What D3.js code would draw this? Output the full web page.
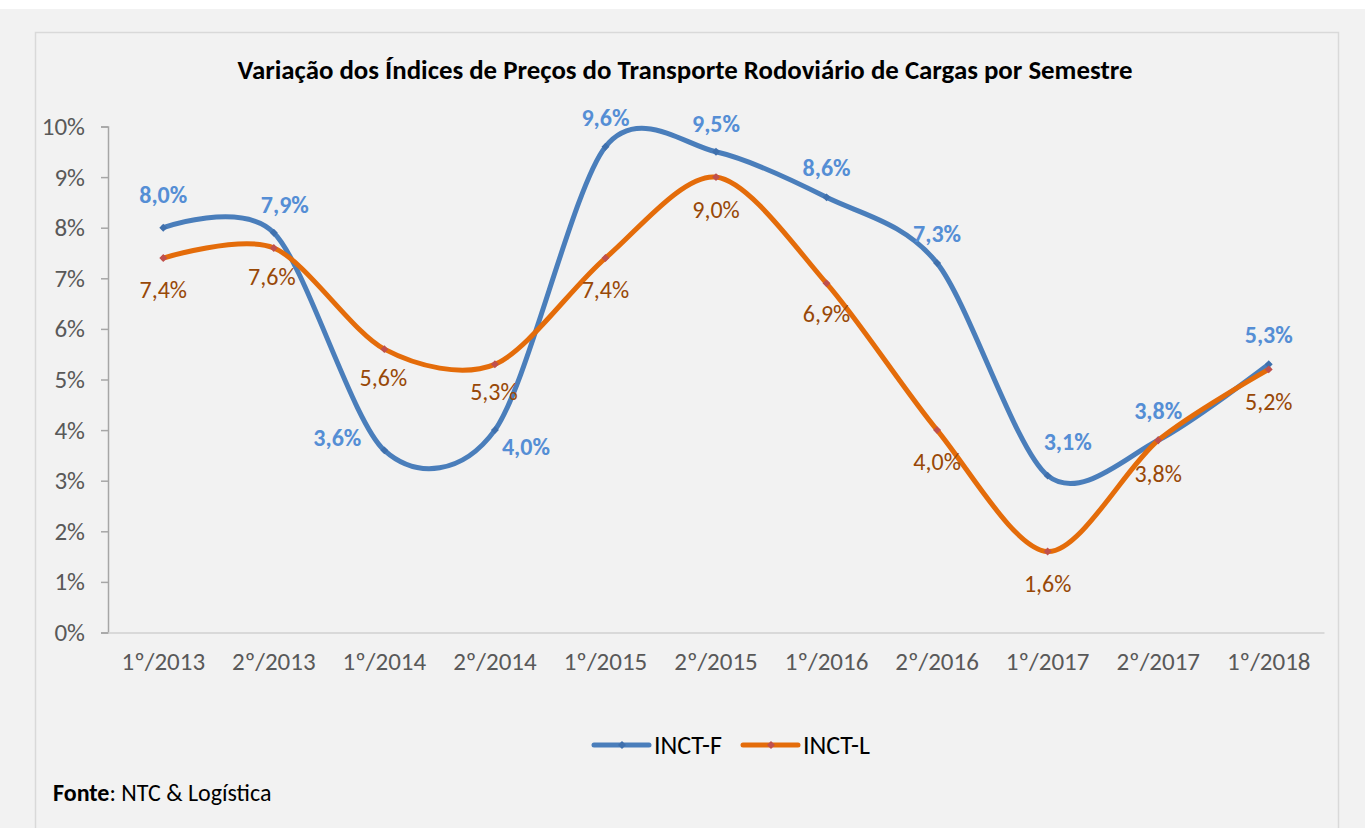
<!DOCTYPE html>
<html>
<head>
<meta charset="utf-8">
<script src="https://cdn.jsdelivr.net/npm/d3@7"></script>
<style>
  body { margin: 0; background: #ffffff; }
  svg { display: block; }
  text { font-family: Calibri, Carlito, Lato, sans-serif; }
</style>
</head>
<body>
<svg id="chart" width="1365" height="828"></svg>
<script>
// data
const categories = ["1º/2013", "2º/2013", "1º/2014", "2º/2014", "1º/2015", "2º/2015",
                    "1º/2016", "2º/2016", "1º/2017", "2º/2017", "1º/2018"];
const inctF = [8.0, 7.9, 3.6, 4.0, 9.6, 9.5, 8.6, 7.3, 3.1, 3.8, 5.3];
const inctL = [7.4, 7.6, 5.6, 5.3, 7.4, 9.0, 6.9, 4.0, 1.6, 3.8, 5.2];
const yTicks = [0, 1, 2, 3, 4, 5, 6, 7, 8, 9, 10];

// label offsets (dx, dy) relative to the point
const offF = [[0,-33],[11,-28],[-47,-13],[31,16],[0,-29],[0,-28],[0,-30],[0,-30],[20,-34],[0,-30],[0,-30]];
const offL = [[0,32],[-2,29],[-1,28],[-1,27],[0,32],[0,32],[0,30],[0,31],[0,32],[0,33],[0,32]];

const colors = {
  F: "#4a7ebb", L: "#e46c0a",
  Fmark: "#3f70ad", Lmark: "#c0504d",
  Flabel: "#558ed5", Llabel: "#984807"
};

const svg = d3.select("#chart");

// backgrounds
svg.append("rect").attr("x", 0).attr("y", 9).attr("width", 1365).attr("height", 819).attr("fill", "#f2f2f2");
svg.append("path")
  .attr("d", "M35.5,828 V32.5 H1338.5 V828")
  .attr("fill", "none").attr("stroke", "#d9d9d9").attr("stroke-width", 1.5);

const x = d3.scaleBand().domain(categories).range([108, 1324]);
const y = d3.scaleLinear().domain([0, 10]).range([632.5, 126.5]);
const cx = i => x(categories[i]) + x.bandwidth() / 2;

// title
svg.append("text")
  .attr("x", 685).attr("y", 79)
  .attr("text-anchor", "middle")
  .attr("font-size", 26).attr("font-weight", "bold").attr("fill", "#000")
  .attr("textLength", 895).attr("lengthAdjust", "spacingAndGlyphs")
  .text("Variação dos Índices de Preços do Transporte Rodoviário de Cargas por Semestre");

// y axis
const yAxis = svg.append("g")
  .attr("transform", "translate(108,0)")
  .call(d3.axisLeft(y).tickValues(yTicks).tickSize(7).tickPadding(16).tickFormat(d => d + "%"));
yAxis.select(".domain").attr("stroke", "#a6a6a6").attr("stroke-width", 1.5);
yAxis.selectAll(".tick line").attr("stroke", "#a6a6a6").attr("stroke-width", 1.5);
yAxis.selectAll("text").attr("font-size", 25).attr("fill", "#595959")
  .style("font-family", "Calibri, Carlito, Lato, sans-serif");

// x axis
const xAxis = svg.append("g")
  .attr("transform", "translate(0,632.5)")
  .call(d3.axisBottom(x).tickSize(0).tickPadding(20));
xAxis.select(".domain").attr("stroke", "#d9d9d9").attr("stroke-width", 2);
xAxis.selectAll("text").attr("font-size", 25).attr("fill", "#595959")
  .style("font-family", "Calibri, Carlito, Lato, sans-serif");

// lines (smoothed like Excel)
const line = d3.line()
  .x((d, i) => cx(i))
  .y(d => y(d))
  .curve(d3.curveCardinal.tension(0.12));

const series = [
  { key: "F", values: inctF, off: offF, bold: true },
  { key: "L", values: inctL, off: offL, bold: false }
];

series.forEach(s => {
  svg.append("path")
    .attr("d", line(s.values))
    .attr("fill", "none")
    .attr("stroke", colors[s.key])
    .attr("stroke-width", 5)
    .attr("stroke-linecap", "round");

  svg.append("g").selectAll("path")
    .data(s.values)
    .enter().append("path")
    .attr("d", d3.symbol(d3.symbolDiamond2, 40))
    .attr("transform", (d, i) => `translate(${cx(i)},${y(d)})`)
    .attr("fill", colors[s.key + "mark"]);
});

series.forEach(s => {
  svg.append("g").selectAll("text")
    .data(s.values)
    .enter().append("text")
    .attr("x", (d, i) => cx(i) + s.off[i][0])
    .attr("y", (d, i) => y(d) + s.off[i][1])
    .attr("dy", "0.35em")
    .attr("text-anchor", "middle")
    .attr("font-size", 24)
    .attr("font-weight", s.bold ? "bold" : "normal")
    .attr("fill", colors[s.key + "label"])
    .text(d => d.toFixed(1).replace(".", ",") + "%");
});

// legend
const legendItems = [
  { label: "INCT-F", key: "F", x: 594 },
  { label: "INCT-L", key: "L", x: 743 }
];
const legend = svg.append("g").attr("class", "legend");
legendItems.forEach(d => {
  legend.append("line")
    .attr("x1", d.x).attr("x2", d.x + 55)
    .attr("y1", 745).attr("y2", 745)
    .attr("stroke", colors[d.key]).attr("stroke-width", 5).attr("stroke-linecap", "round");
  legend.append("path")
    .attr("d", d3.symbol(d3.symbolDiamond2, 40))
    .attr("transform", `translate(${d.x + 28},745)`)
    .attr("fill", colors[d.key + "mark"]);
  legend.append("text")
    .attr("x", d.x + 60).attr("y", 745).attr("dy", "0.35em")
    .attr("font-size", 26).attr("fill", "#000")
    .text(d.label);
});

// source
const src = svg.append("text").attr("x", 53).attr("y", 801).attr("font-size", 24).attr("fill", "#000");
src.append("tspan").attr("font-weight", "bold").text("Fonte");
src.append("tspan").text(": NTC & Logística");
</script>
</body>
</html>
